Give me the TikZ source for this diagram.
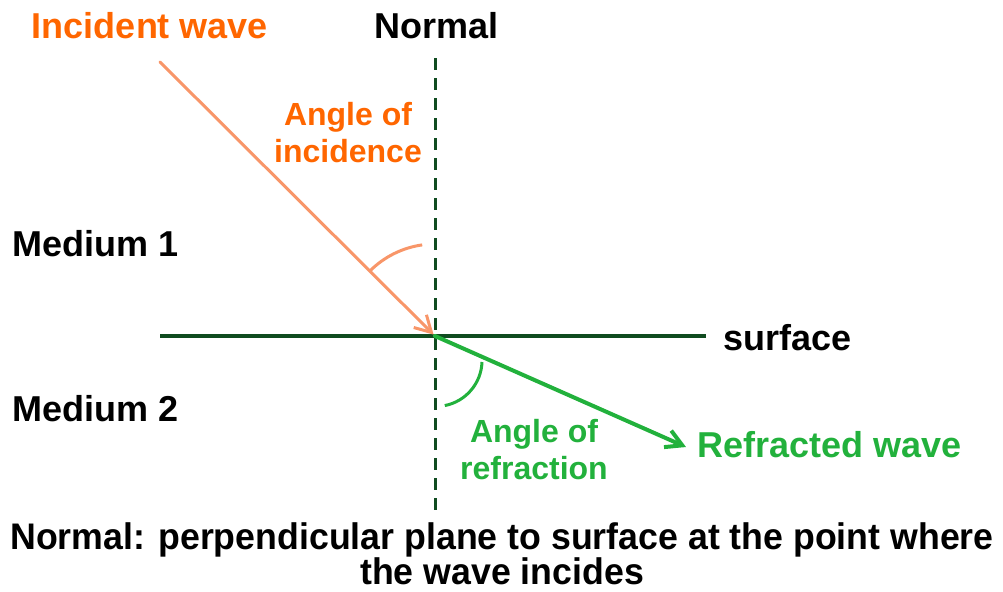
\documentclass[tikz,border=0pt]{standalone}
\usepackage{fontspec}
\setmainfont{Liberation Sans}
\usepackage{xcolor}
\usetikzlibrary{arrows.meta, positioning}
\definecolor{incorange}{RGB}{255,102,0}
\definecolor{incray}{RGB}{248,150,105}
\definecolor{refgreen}{RGB}{34,177,60}
\definecolor{darkgreen}{RGB}{16,76,32}

\begin{document}
\begin{tikzpicture}[
  x=0.5pt, y=-0.5pt,
  lbl/.style={font=\fontsize{18}{21}\selectfont\bfseries, inner sep=0pt},
  anglbl/.style={font=\fontsize{16}{18.5}\selectfont\bfseries, align=center, inner sep=0pt, text=#1},
  ray/.style={-{Straight Barb[length=8pt, width=9pt]}, draw=#1, line cap=round},
  angarc/.style={draw=#1, line width=1.5pt}
]
\useasboundingbox (0,0) rectangle (1003,591);
% geometry
\coordinate (O) at (435,336);
\coordinate (ntop) at (435,58);
\coordinate (nbot) at (435,515);
\coordinate (sleft) at (160,336);
\coordinate (sright) at (706,336);
\coordinate (istart) at (160,62);
\coordinate (rend) at (686,447);
% lines
\draw[darkgreen, line width=1.5pt, dash pattern=on 6pt off 4pt] (ntop) -- (nbot);
\draw[darkgreen, line width=2pt] (sleft) -- (sright);
\draw[ray=incray, line width=1.5pt, shorten >=1pt] (istart) -- (O);
\draw[ray=refgreen, line width=2pt] (O) -- (rend);
% angles
\draw[angarc=incray] (422.2,244.9) arc[start angle=98, end angle=135, radius=46pt];
\draw[angarc=refgreen] (482,362) arc[start angle=-2, end angle=-79, radius=23pt];
% labels
\node[lbl, text=incorange] (inc) at (150,26) {Incident wave};
\node[lbl] (norm) at (437,26) {Normal};
\node[anglbl=incorange] (angi) at (348,133) {Angle of\\incidence};
\node[lbl, anchor=west] (med1) at (12,244) {Medium 1};
\node[lbl, anchor=west] (med2) at (12,409) {Medium 2};
\node[lbl, anchor=west] (surf) at (723,338) {surface};
\node[anglbl=refgreen] (angr) at (534,450) {Angle of\\refraction};
\node[lbl, text=refgreen, anchor=west] (refr) at (697,445) {Refracted wave};
\node[lbl, align=center, font=\fontsize{18.5}{17.5}\selectfont\bfseries, xscale=0.965, transform shape] (note) at (502,554)
  {Normal: perpendicular plane to surface at the point where\\the wave incides};
\end{tikzpicture}
\end{document}
